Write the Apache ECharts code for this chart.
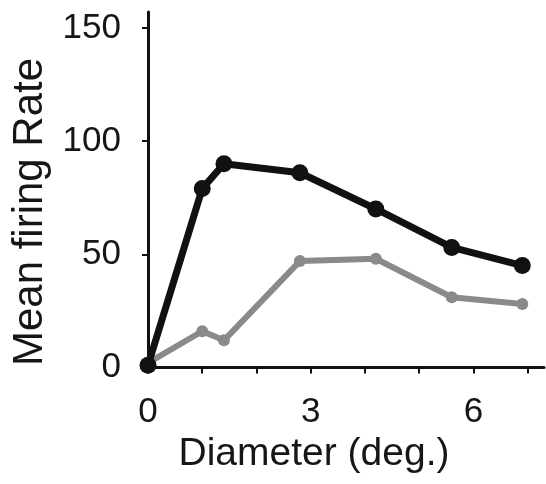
<!DOCTYPE html>
<html>
<head>
<meta charset="utf-8">
<script src="https://cdn.jsdelivr.net/npm/echarts@6/dist/echarts.min.js"></script>
<style>
  html, body { margin: 0; padding: 0; background: #fff; }
  #chart { width: 546px; height: 484px; }
</style>
</head>
<body>
<div id="chart"></div>
<script>
// valores
const diameters = [0, 1, 1.4, 2.8, 4.2, 5.6, 6.9];
const rateBlack = [1, 79, 90, 86, 70, 53, 45];
const rateGray = [2, 16, 12, 47, 48, 31, 28];

const xTicks = [0, 1, 2, 3, 4, 5, 6, 7];
const xLabels = [0, 3, 6];
const yTicks = [0, 50, 100, 150];

const textColor = "#161616";
const font = "'Liberation Sans', Arial, sans-serif";

const chart = echarts.init(document.getElementById("chart"));

const option = {
  animation: false,
  grid: { left: 148, right: 2, top: 12, bottom: 112 },
  xAxis: {
    type: "value",
    min: 0,
    max: 7.3,
    offset: 8,
    axisLine: { lineStyle: { color: "#111", width: 3 } },
    axisTick: { customValues: xTicks, length: 6, lineStyle: { color: "#111", width: 2 } },
    axisLabel: { customValues: xLabels, fontSize: 35, margin: 15, color: textColor, fontFamily: font },
    splitLine: { show: false },
    name: "Diameter (deg.)",
    nameLocation: "middle",
    nameGap: 55,
    nameTextStyle: { fontSize: 39, color: textColor, fontFamily: font, padding: [0, 64, 0, 0] },
  },
  yAxis: {
    type: "value",
    min: -2,
    max: 157,
    offset: 9,
    axisLine: { show: true, lineStyle: { color: "#111", width: 3 } },
    axisTick: { show: true, customValues: yTicks, length: 6, lineStyle: { color: "#111", width: 2 } },
    axisLabel: { customValues: yTicks, fontSize: 35, margin: 18, color: textColor, fontFamily: font },
    splitLine: { show: false },
    name: "Mean firing Rate",
    nameLocation: "middle",
    nameGap: 84,
    nameTextStyle: { fontSize: 42, color: textColor, fontFamily: font, padding: [0, 40, 0, 0] },
  },
  series: [
    {
      name: "gray",
      type: "line",
      data: diameters.map((d, i) => [d, rateGray[i]]),
      symbol: "circle",
      symbolSize: 12,
      lineStyle: { color: "#8a8a8a", width: 6 },
      itemStyle: { color: "#8a8a8a" },
    },
    {
      name: "black",
      type: "line",
      data: diameters.map((d, i) => [d, rateBlack[i]]),
      symbol: "circle",
      symbolSize: 17,
      lineStyle: { color: "#111", width: 7 },
      itemStyle: { color: "#111" },
    },
  ],
};

chart.setOption(option);
</script>
</body>
</html>
